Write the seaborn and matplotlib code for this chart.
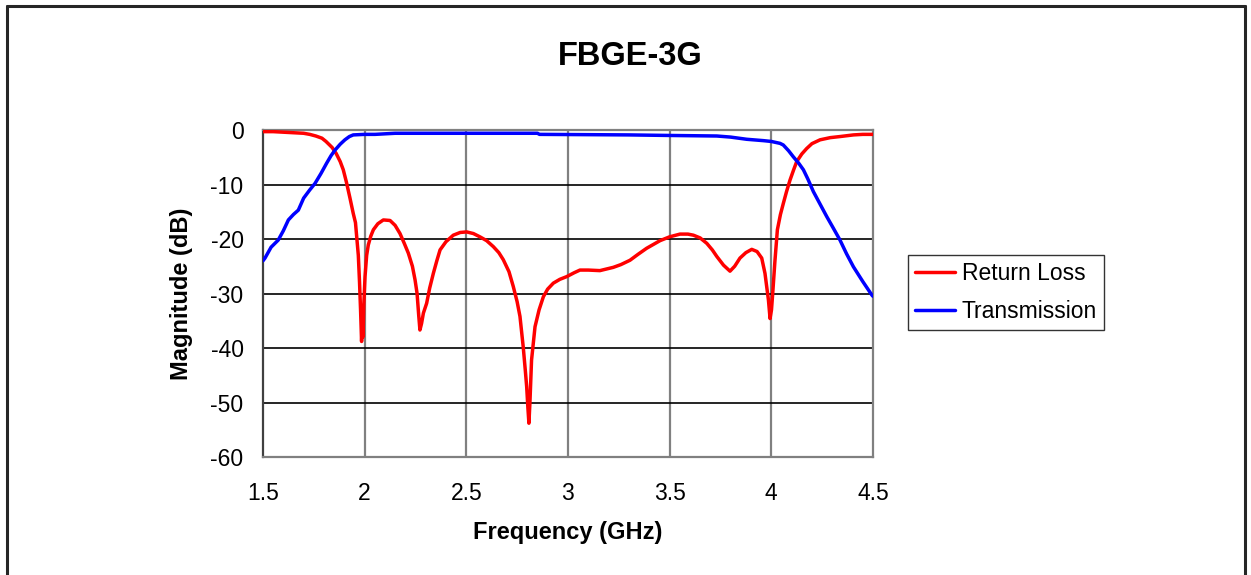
import matplotlib
matplotlib.use("Agg")
import matplotlib.pyplot as plt
from matplotlib.lines import Line2D
import seaborn as sns
import pandas as pd

sns.set_theme(style = "white")
plt.rcParams['font.family'] = ['Liberation Sans', 'DejaVu Sans']
plt.rcParams['axes.unicode_minus'] = False
plt.rcParams['text.color'] = 'black'
plt.rcParams['axes.labelcolor'] = 'black'
plt.rcParams['xtick.color'] = 'black'
plt.rcParams['ytick.color'] = 'black'

# Return loss trace (GHz, dB)
rl_freq = [1.50, 1.55, 1.60, 1.65, 1.70, 1.73, 1.76, 1.79, 1.81, 1.84, 1.86, 1.88, 1.895,
           1.91, 1.928, 1.944, 1.955, 1.962, 1.969, 1.975, 1.980, 1.985, 1.988, 1.992,
           1.996, 2.002, 2.010, 2.018, 2.030, 2.043, 2.065, 2.092, 2.125, 2.150, 2.174,
           2.195, 2.215, 2.235, 2.248, 2.258, 2.266, 2.272, 2.280, 2.289, 2.305, 2.32,
           2.338, 2.355, 2.371, 2.40, 2.436, 2.47, 2.502, 2.535, 2.567, 2.60, 2.633,
           2.66, 2.682, 2.71, 2.731, 2.75, 2.764, 2.780, 2.790, 2.797, 2.803, 2.808,
           2.813, 2.821, 2.838, 2.858, 2.879, 2.90, 2.928, 2.96, 2.994, 3.03, 3.059,
           3.10, 3.157, 3.19, 3.223, 3.26, 3.305, 3.345, 3.387, 3.42, 3.453, 3.50,
           3.551, 3.59, 3.617, 3.65, 3.683, 3.71, 3.732, 3.765, 3.797, 3.82, 3.846,
           3.875, 3.904, 3.93, 3.953, 3.969, 3.986, 3.994, 4.001, 4.007, 4.018, 4.030,
           4.045, 4.059, 4.075, 4.092, 4.11, 4.125, 4.15, 4.174, 4.20, 4.240, 4.29,
           4.338, 4.404, 4.45, 4.50]
rl_db = [-0.3, -0.3, -0.4, -0.5, -0.6, -0.8, -1.1, -1.5, -2.1, -3.2, -4.3, -5.8, -7.3,
         -9.5, -12.5, -15.3, -17, -20, -23, -28, -33, -38.8, -36, -38,
         -32, -26.9, -23, -21.1, -19.5, -18.3, -17.2, -16.5, -16.6, -17.5, -19,
         -20.8, -22.6, -25, -27.5, -30, -34, -36.7, -35.5, -33.6, -31.8, -29,
         -26.3, -24, -22, -20.5, -19.3, -18.8, -18.7, -19, -19.6, -20.3, -21.4,
         -22.5, -23.8, -26, -28.7, -31.5, -34.2, -39.8, -44, -47.1, -51, -53.8,
         -50, -42.2, -36.1, -33, -30.6, -29.2, -28.1, -27.4, -26.9, -26.2, -25.7,
         -25.7, -25.8, -25.5, -25.2, -24.7, -23.9, -22.8, -21.7, -21, -20.3, -19.6,
         -19.1, -19.1, -19.3, -19.8, -20.8, -22, -23.2, -24.8, -25.9, -25, -23.5,
         -22.5, -21.9, -22.3, -23.5, -26.3, -31.2, -34.6, -33, -30, -24, -18.3,
         -15.5, -13.5, -11.3, -9.2, -7.3, -5.8, -4.4, -3.4, -2.5, -1.8, -1.4,
         -1.2, -0.9, -0.8, -0.8]

# Transmission trace (GHz, dB)
tx_freq = [1.50, 1.51, 1.54, 1.575, 1.60, 1.625, 1.65, 1.674, 1.70, 1.73, 1.756, 1.785,
           1.813, 1.835, 1.854, 1.88, 1.903, 1.925, 1.944, 2.00, 2.051, 2.15, 2.50,
           2.85, 2.86, 3.3, 3.5, 3.732, 3.80, 3.879, 3.961, 4.00, 4.043, 4.059, 4.085,
           4.108, 4.135, 4.158, 4.18, 4.207, 4.24, 4.273, 4.305, 4.338, 4.37, 4.404,
           4.45, 4.495, 4.50]
tx_db = [-24, -23.5, -21.5, -20.2, -18.5, -16.5, -15.5, -14.7, -12.5, -11, -9.8, -8,
         -6.1, -4.7, -3.7, -2.6, -1.8, -1.2, -0.9, -0.8, -0.8, -0.6, -0.6,
         -0.6, -0.8, -0.9, -1.0, -1.1, -1.3, -1.7, -1.95, -2.1, -2.45, -2.75, -3.8,
         -4.9, -6.1, -7.3, -9, -11.3, -13.6, -15.9, -18, -20.2, -22.7, -25.1,
         -27.8, -30.3, -30.5]

x_ticks = [1.5, 2, 2.5, 3, 3.5, 4, 4.5]
x_labels = ["1.5", "2", "2.5", "3", "3.5", "4", "4.5"]
y_ticks = [0, -10, -20, -30, -40, -50, -60]

df = pd.concat([
    pd.DataFrame({'freq': rl_freq, 'db': rl_db, 'series': 'Return Loss'}),
    pd.DataFrame({'freq': tx_freq, 'db': tx_db, 'series': 'Transmission'}),
])

fig = plt.figure(figsize = (12.51, 5.75), dpi = 100)
ax = fig.add_axes([0.2102, 0.2052, 0.4876, 0.5687])

colors = {'Return Loss': '#ff0000', 'Transmission': '#0000ff'}
sns.lineplot(data = df, x = 'freq', y = 'db', hue = 'series', palette = colors,
             estimator = None, linewidth = 2.5, ax = ax, legend = False, zorder = 3)

ax.set_xlim(1.5, 4.5)
ax.set_ylim(-60, 0)
ax.set_xticks(x_ticks)
ax.set_xticklabels(x_labels)
ax.set_yticks(y_ticks)
ax.tick_params(axis = 'x', length = 0, pad = 18, labelsize = 16.5, labelcolor = 'black')
ax.tick_params(axis = 'y', length = 6, width = 1, direction = 'out', pad = 8,
               labelsize = 16.5, color = '#404040', labelcolor = 'black')

ax.grid(False)
for t in x_ticks[1:-1]:
    ax.axvline(t, color = '#808080', linewidth = 1.6, zorder = 1)
for t in y_ticks[1:-1]:
    ax.axhline(t, color = 'black', linewidth = 1.2, zorder = 1)

ax.spines['left'].set_color('#404040')
ax.spines['left'].set_linewidth(1.6)
for side in ['top', 'right', 'bottom']:
    ax.spines[side].set_color('#808080')
    ax.spines[side].set_linewidth(1.6)

ax.set_xlabel('Frequency (GHz)', fontsize = 17, fontweight = 'bold', color = 'black')
ax.set_ylabel('Magnitude (dB)', fontsize = 17, fontweight = 'bold', color = 'black')
ax.xaxis.set_label_coords(0.5, -0.195)
ax.yaxis.set_label_coords(-0.115, 0.5)

fig.text(0.504, 0.901, 'FBGE-3G', fontsize = 23.5, fontweight = 'bold',
         ha = 'center', va = 'center', color = 'black')

handles = [Line2D([], [], color = colors[k], linewidth = 2.5) for k in colors]
leg = fig.legend(handles, list(colors), loc = 'lower left',
                 bbox_to_anchor = (0.7258, 0.426), bbox_transform = fig.transFigure,
                 borderaxespad = 0, fontsize = 16.5, frameon = True, fancybox = False,
                 handlelength = 1.75, handletextpad = 0.3, labelspacing = 0.65,
                 borderpad = 0.3)
leg.get_frame().set_edgecolor('black')
leg.get_frame().set_linewidth(1.0)
for txt in leg.get_texts():
    txt.set_color('black')

# outer chart border (left, top, right)
border = dict(color = '#262626', linewidth = 2.2, transform = fig.transFigure)
fig.add_artist(Line2D([0.0058, 0.0058], [0.0, 0.9895], **border))
fig.add_artist(Line2D([0.0058, 0.9955], [0.9895, 0.9895], **border))
fig.add_artist(Line2D([0.9955, 0.9955], [0.0, 0.9895], **border))

fig.savefig('out.png', dpi = 100)
